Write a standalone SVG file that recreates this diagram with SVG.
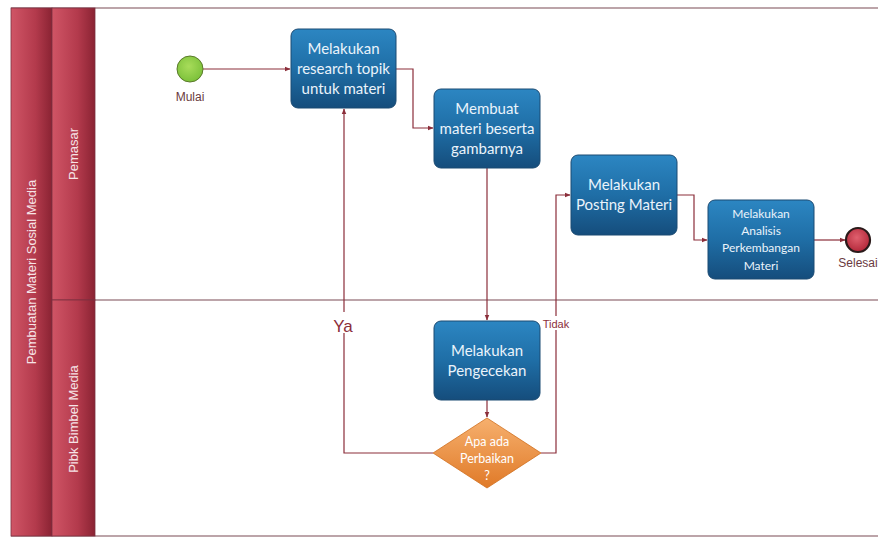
<svg xmlns="http://www.w3.org/2000/svg" width="878" height="538" viewBox="0 0 878 538">
<defs>
<linearGradient id="band" x1="0" y1="0" x2="1" y2="0">
<stop offset="0" stop-color="#d05566"/>
<stop offset="0.6" stop-color="#b33a4c"/>
<stop offset="1" stop-color="#8a2333"/>
</linearGradient>
<linearGradient id="box" x1="0" y1="0" x2="0" y2="1">
<stop offset="0" stop-color="#2c86c2"/>
<stop offset="0.5" stop-color="#1f6ea6"/>
<stop offset="1" stop-color="#154d7c"/>
</linearGradient>
<linearGradient id="dia" x1="0" y1="0" x2="0" y2="1">
<stop offset="0" stop-color="#f6b06e"/>
<stop offset="1" stop-color="#e07a28"/>
</linearGradient>
<radialGradient id="green" cx="0.45" cy="0.4" r="0.6">
<stop offset="0" stop-color="#a8dc5a"/>
<stop offset="1" stop-color="#7cc13a"/>
</radialGradient>
<radialGradient id="red" cx="0.45" cy="0.4" r="0.6">
<stop offset="0" stop-color="#e0606e"/>
<stop offset="1" stop-color="#b3283a"/>
</radialGradient>
<marker id="arr" viewBox="0 0 10 10" refX="9" refY="5" markerWidth="5" markerHeight="5" orient="auto">
<path d="M0,1 L10,5 L0,9 z" fill="#8b2e3a"/>
</marker>
</defs>
<style>
.bandtxt{font-family:"Liberation Sans",Arial,sans-serif;font-size:13px;fill:#f6e4e7;text-anchor:middle}
.task{fill:url(#box);stroke:#1b4a72;stroke-width:1}
.tt{font-family:"Lato","Open Sans",sans-serif;font-size:15px;fill:#eaf3fb;text-anchor:middle}
.ts{font-family:"Lato","Open Sans",sans-serif;font-size:12px;fill:#eaf3fb;text-anchor:middle}
.td{font-family:"Lato","Open Sans",sans-serif;font-size:12.5px;fill:#ffffff;text-anchor:middle}
.conn{fill:none;stroke:#8b2e3a;stroke-width:1.2;marker-end:url(#arr)}
.lbl{font-family:"Liberation Sans",Arial,sans-serif;fill:#6a3a40;text-anchor:middle}
.clbl{font-family:"Liberation Sans",Arial,sans-serif;fill:#8b2e3a;text-anchor:middle}
</style>
<rect x="0" y="0" width="878" height="538" fill="#ffffff"/>
<g id="pool">
<line x1="11" y1="8" x2="878" y2="8" stroke="#7a4a55" stroke-width="1.2"/>
<line x1="52" y1="300" x2="878" y2="300" stroke="#7a4a55" stroke-width="1.2"/>
<line x1="11" y1="536" x2="878" y2="536" stroke="#7a4a55" stroke-width="1.2"/>
<rect x="11" y="8" width="41" height="528" fill="url(#band)" stroke="#7a3040" stroke-width="0.8"/>
<rect x="52" y="8" width="43" height="292" fill="url(#band)" stroke="#7a3040" stroke-width="0.8"/>
<rect x="52" y="300" width="43" height="236" fill="url(#band)" stroke="#7a3040" stroke-width="0.8"/>
<text class="bandtxt" transform="translate(36,272) rotate(-90)">Pembuatan Materi Sosial Media</text>
<text class="bandtxt" transform="translate(78,154) rotate(-90)">Pemasar</text>
<text class="bandtxt" transform="translate(78,419) rotate(-90)">Pibk Bimbel Media</text>
</g>
<g id="connectors">
<path class="conn" d="M203,69 L290,69"/>
<path class="conn" d="M396,69 L413,69 L413,128 L433,128"/>
<path class="conn" d="M487,168 L487,320"/>
<path class="conn" d="M487,400 L487,417"/>
<path class="conn" d="M433,453 L344,453 L344,109"/>
<path class="conn" d="M541,453 L556,453 L556,195 L570,195"/>
<path class="conn" d="M677,195 L694,195 L694,240 L707,240"/>
<path class="conn" d="M814,240 L845,240"/>
<rect x="332" y="312" width="24" height="21" fill="#ffffff"/>
<text class="clbl" x="343" y="332" font-size="17">Ya</text>
<rect x="541" y="316" width="31" height="14" fill="#ffffff"/>
<text class="clbl" x="556" y="328" font-size="11">Tidak</text>
</g>
<g id="start">
<circle cx="190" cy="69" r="13" fill="url(#green)" stroke="#5a7a2a" stroke-width="1"/>
<text class="lbl" x="190" y="101" font-size="12">Mulai</text>
</g>
<g id="task1">
<rect class="task" x="291" y="29" width="105" height="79" rx="7"/>
<text class="tt" x="343.5" y="54">Melakukan</text>
<text class="tt" x="343.5" y="74">research topik</text>
<text class="tt" x="343.5" y="94">untuk materi</text>
</g>
<g id="task2">
<rect class="task" x="434" y="89" width="106" height="79" rx="7"/>
<text class="tt" x="487" y="114">Membuat</text>
<text class="tt" x="487" y="134">materi beserta</text>
<text class="tt" x="487" y="154">gambarnya</text>
</g>
<g id="task3">
<rect class="task" x="571" y="155" width="106" height="80" rx="7"/>
<text class="tt" x="624" y="190">Melakukan</text>
<text class="tt" x="624" y="210">Posting Materi</text>
</g>
<g id="task4">
<rect class="task" x="708" y="200" width="106" height="79" rx="7"/>
<text class="ts" x="761" y="218">Melakukan</text>
<text class="ts" x="761" y="235">Analisis</text>
<text class="ts" x="761" y="252">Perkembangan</text>
<text class="ts" x="761" y="270">Materi</text>
</g>
<g id="end">
<circle cx="858" cy="240" r="12" fill="url(#red)" stroke="#2a1a1a" stroke-width="2.2"/>
<text class="lbl" x="858" y="267" font-size="12">Selesai</text>
</g>
<g id="task5">
<rect class="task" x="434" y="321" width="106" height="79" rx="7"/>
<text class="tt" x="487" y="356">Melakukan</text>
<text class="tt" x="487" y="376">Pengecekan</text>
</g>
<g id="decision">
<polygon points="487,418 541,453 487,488 433,453" fill="url(#dia)" stroke="#d07020" stroke-width="0.8"/>
<text class="td" x="487" y="446">Apa ada</text>
<text class="td" x="487" y="463">Perbaikan</text>
<text class="td" x="487" y="480">?</text>
</g>
</svg>
